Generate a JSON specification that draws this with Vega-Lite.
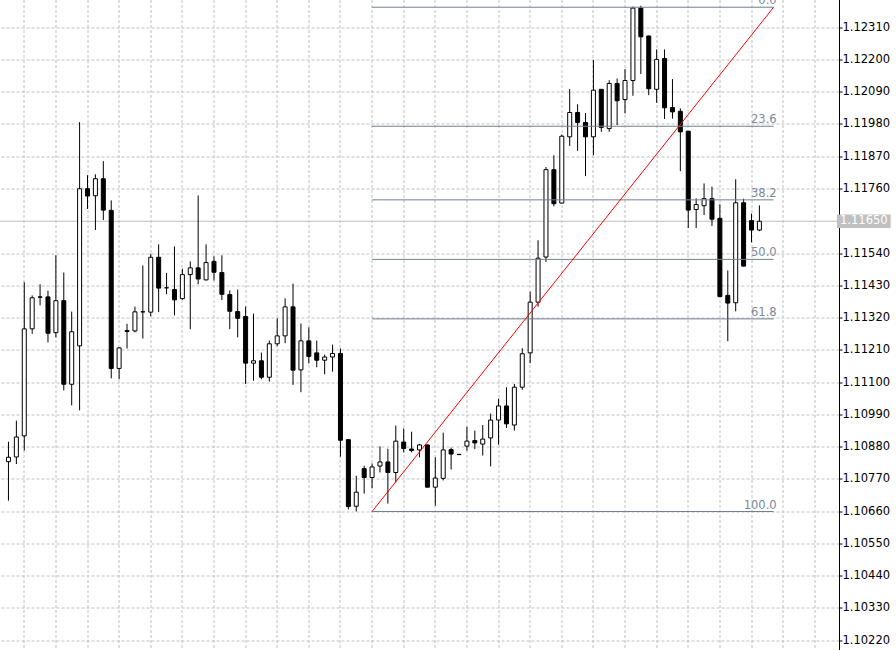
{
  "$schema": "https://vega.github.io/schema/vega-lite/v6.json",
  "width": 839.5,
  "height": 650,
  "autosize": {"type": "none"},
  "padding": {"left": 0, "top": 0, "right": 56.5, "bottom": 0},
  "background": "white",
  "config": {
    "view": {"stroke": null},
    "font": "DejaVu Sans",
    "axis": {"labelOverlap": false, "labelBound": false, "labelFlush": false}
  },
  "datasets": {
    "candles": [
      {"i":0,"o":1.10830,"h":1.10898,"l":1.10697,"c":1.10845},
      {"i":1,"o":1.10846,"h":1.10970,"l":1.10822,"c":1.10914},
      {"i":2,"o":1.10918,"h":1.11442,"l":1.10868,"c":1.11283},
      {"i":3,"o":1.11283,"h":1.11397,"l":1.11266,"c":1.11389},
      {"i":4,"o":1.11392,"h":1.11435,"l":1.11363,"c":1.11391},
      {"i":5,"o":1.11392,"h":1.11413,"l":1.11237,"c":1.11268},
      {"i":6,"o":1.11270,"h":1.11534,"l":1.11254,"c":1.11379},
      {"i":7,"o":1.11379,"h":1.11475,"l":1.11073,"c":1.11094},
      {"i":8,"o":1.11094,"h":1.11342,"l":1.11022,"c":1.11273},
      {"i":9,"o":1.11225,"h":1.11988,"l":1.11005,"c":1.11761},
      {"i":10,"o":1.11761,"h":1.11807,"l":1.11692,"c":1.11736},
      {"i":11,"o":1.11737,"h":1.11810,"l":1.11620,"c":1.11795},
      {"i":12,"o":1.11795,"h":1.11855,"l":1.11654,"c":1.11688},
      {"i":13,"o":1.11687,"h":1.11721,"l":1.11114,"c":1.11148},
      {"i":14,"o":1.11148,"h":1.11220,"l":1.11111,"c":1.11218},
      {"i":15,"o":1.11277,"h":1.11300,"l":1.11216,"c":1.11274},
      {"i":16,"o":1.11276,"h":1.11359,"l":1.11271,"c":1.11341},
      {"i":17,"o":1.11341,"h":1.11499,"l":1.11250,"c":1.11341},
      {"i":18,"o":1.11340,"h":1.11539,"l":1.11326,"c":1.11527},
      {"i":19,"o":1.11527,"h":1.11571,"l":1.11340,"c":1.11422},
      {"i":20,"o":1.11423,"h":1.11474,"l":1.11401,"c":1.11423},
      {"i":21,"o":1.11417,"h":1.11564,"l":1.11329,"c":1.11382},
      {"i":22,"o":1.11386,"h":1.11488,"l":1.11382,"c":1.11468},
      {"i":23,"o":1.11468,"h":1.11513,"l":1.11282,"c":1.11491},
      {"i":24,"o":1.11491,"h":1.11738,"l":1.11435,"c":1.11453},
      {"i":25,"o":1.11450,"h":1.11571,"l":1.11448,"c":1.11509},
      {"i":26,"o":1.11513,"h":1.11530,"l":1.11448,"c":1.11476},
      {"i":27,"o":1.11475,"h":1.11534,"l":1.11381,"c":1.11401},
      {"i":28,"o":1.11400,"h":1.11414,"l":1.11282,"c":1.11343},
      {"i":29,"o":1.11342,"h":1.11417,"l":1.11254,"c":1.11319},
      {"i":30,"o":1.11325,"h":1.11359,"l":1.11095,"c":1.11166},
      {"i":31,"o":1.11166,"h":1.11335,"l":1.11106,"c":1.11174},
      {"i":32,"o":1.11174,"h":1.11202,"l":1.11111,"c":1.11118},
      {"i":33,"o":1.11118,"h":1.11243,"l":1.11103,"c":1.11232},
      {"i":34,"o":1.11232,"h":1.11319,"l":1.11224,"c":1.11259},
      {"i":35,"o":1.11259,"h":1.11387,"l":1.11234,"c":1.11358},
      {"i":36,"o":1.11358,"h":1.11437,"l":1.11092,"c":1.11142},
      {"i":37,"o":1.11143,"h":1.11301,"l":1.11067,"c":1.11242},
      {"i":38,"o":1.11242,"h":1.11288,"l":1.11165,"c":1.11189},
      {"i":39,"o":1.11201,"h":1.11243,"l":1.11152,"c":1.11176},
      {"i":40,"o":1.11176,"h":1.11195,"l":1.11128,"c":1.11187},
      {"i":41,"o":1.11187,"h":1.11229,"l":1.11137,"c":1.11199},
      {"i":42,"o":1.11199,"h":1.11216,"l":1.10847,"c":1.10903},
      {"i":43,"o":1.10905,"h":1.10907,"l":1.10667,"c":1.10677},
      {"i":44,"o":1.10678,"h":1.10782,"l":1.10660,"c":1.10726},
      {"i":45,"o":1.10806,"h":1.10816,"l":1.10721,"c":1.10776},
      {"i":46,"o":1.10776,"h":1.10824,"l":1.10739,"c":1.10812},
      {"i":47,"o":1.10815,"h":1.10882,"l":1.10793,"c":1.10829},
      {"i":48,"o":1.10829,"h":1.10874,"l":1.10687,"c":1.10793},
      {"i":49,"o":1.10793,"h":1.10953,"l":1.10759,"c":1.10900},
      {"i":50,"o":1.10897,"h":1.10943,"l":1.10862,"c":1.10875},
      {"i":51,"o":1.10873,"h":1.10932,"l":1.10862,"c":1.10868},
      {"i":52,"o":1.10870,"h":1.10891,"l":1.10845,"c":1.10887},
      {"i":53,"o":1.10887,"h":1.10888,"l":1.10742,"c":1.10743},
      {"i":54,"o":1.10743,"h":1.10845,"l":1.10680,"c":1.10774},
      {"i":55,"o":1.10773,"h":1.10929,"l":1.10766,"c":1.10870},
      {"i":56,"o":1.10871,"h":1.10878,"l":1.10803,"c":1.10856},
      {"i":57,"o":1.10855,"h":1.10856,"l":1.10853,"c":1.10854},
      {"i":58,"o":1.10883,"h":1.10949,"l":1.10867,"c":1.10900},
      {"i":59,"o":1.10902,"h":1.10936,"l":1.10873,"c":1.10894},
      {"i":60,"o":1.10890,"h":1.10955,"l":1.10851,"c":1.10907},
      {"i":61,"o":1.10911,"h":1.10994,"l":1.10814,"c":1.10972},
      {"i":62,"o":1.10972,"h":1.11045,"l":1.10888,"c":1.11020},
      {"i":63,"o":1.11020,"h":1.11084,"l":1.10945,"c":1.10959},
      {"i":64,"o":1.10955,"h":1.11095,"l":1.10936,"c":1.11084},
      {"i":65,"o":1.11084,"h":1.11217,"l":1.11075,"c":1.11198},
      {"i":66,"o":1.11201,"h":1.11410,"l":1.11166,"c":1.11374},
      {"i":67,"o":1.11374,"h":1.11585,"l":1.11359,"c":1.11524},
      {"i":68,"o":1.11528,"h":1.11835,"l":1.11511,"c":1.11826},
      {"i":69,"o":1.11826,"h":1.11875,"l":1.11701,"c":1.11710},
      {"i":70,"o":1.11712,"h":1.11946,"l":1.11710,"c":1.11940},
      {"i":71,"o":1.11938,"h":1.12101,"l":1.11907,"c":1.12021},
      {"i":72,"o":1.12021,"h":1.12049,"l":1.11890,"c":1.11987},
      {"i":73,"o":1.11987,"h":1.12019,"l":1.11804,"c":1.11938},
      {"i":74,"o":1.11938,"h":1.12200,"l":1.11875,"c":1.12097},
      {"i":75,"o":1.12100,"h":1.12101,"l":1.11955,"c":1.11970},
      {"i":76,"o":1.11966,"h":1.12131,"l":1.11955,"c":1.12120},
      {"i":77,"o":1.12120,"h":1.12137,"l":1.11978,"c":1.12061},
      {"i":78,"o":1.12065,"h":1.12169,"l":1.12018,"c":1.12130},
      {"i":79,"o":1.12130,"h":1.12382,"l":1.12078,"c":1.12377},
      {"i":80,"o":1.12377,"h":1.12385,"l":1.12152,"c":1.12279},
      {"i":81,"o":1.12282,"h":1.12283,"l":1.12080,"c":1.12102},
      {"i":82,"o":1.12100,"h":1.12236,"l":1.12054,"c":1.12202},
      {"i":83,"o":1.12205,"h":1.12236,"l":1.11999,"c":1.12037},
      {"i":84,"o":1.12038,"h":1.12135,"l":1.12000,"c":1.12023},
      {"i":85,"o":1.12025,"h":1.12035,"l":1.11821,"c":1.11955},
      {"i":86,"o":1.11957,"h":1.11958,"l":1.11627,"c":1.11688},
      {"i":87,"o":1.11690,"h":1.11728,"l":1.11627,"c":1.11707},
      {"i":88,"o":1.11703,"h":1.11779,"l":1.11671,"c":1.11727},
      {"i":89,"o":1.11727,"h":1.11768,"l":1.11634,"c":1.11657},
      {"i":90,"o":1.11660,"h":1.11708,"l":1.11391,"c":1.11393},
      {"i":91,"o":1.11397,"h":1.11482,"l":1.11241,"c":1.11371},
      {"i":92,"o":1.11372,"h":1.11793,"l":1.11343,"c":1.11713},
      {"i":93,"o":1.11713,"h":1.11727,"l":1.11496,"c":1.11497},
      {"i":94,"o":1.11652,"h":1.11676,"l":1.11578,"c":1.11620},
      {"i":95,"o":1.11620,"h":1.11704,"l":1.11616,"c":1.11650}
    ],
    "fib": [
      {"label": "0.0", "price": 1.12380, "start": 46, "end": 96.8},
      {"label": "23.6", "price": 1.11974, "start": 46, "end": 96.8},
      {"label": "38.2", "price": 1.11723, "start": 46, "end": 96.8},
      {"label": "50.0", "price": 1.11520, "start": 46, "end": 96.8},
      {"label": "61.8", "price": 1.11317, "start": 46, "end": 96.8},
      {"label": "100.0", "price": 1.10660, "start": 46, "end": 96.8}
    ],
    "trend": [
      {"i0": 46, "p0": 1.10660, "i1": 96.8, "p1": 1.12380}
    ],
    "bid": [
      {"label": "1.11650", "price": 1.11650}
    ]
  },
  "layer": [
    {
      "data": {"name": "bid"},
      "mark": {"type": "rule", "color": "#c0c0c0", "strokeWidth": 1},
      "encoding": {
        "y": {
          "field": "price",
          "type": "quantitative",
          "title": null,
          "scale": {"domain": [1.101876, 1.1240465], "nice": false, "zero": false},
          "axis": {
            "orient": "right",
            "translate": 0,
            "values": [1.1022, 1.1033, 1.1044, 1.1055, 1.1066, 1.1077, 1.1088, 1.1099, 1.111, 1.1121, 1.1132, 1.1143, 1.1154, 1.1176, 1.1187, 1.1198, 1.1209, 1.122, 1.1231],
            "tickCount": 100,
            "format": ".5f",
            "grid": true,
            "gridColor": "#c0c0c0",
            "gridDash": [3, 2],
            "gridWidth": 1,
            "domainColor": "#000000",
            "domainWidth": 1,
            "tickColor": "#000000",
            "tickSize": 3,
            "tickWidth": 1,
            "labelPadding": 0,
            "labelFont": "DejaVu Sans",
            "labelFontSize": 11.5,
            "labelColor": "#000000",
            "labelBound": false,
            "labelOverlap": false,
            "labelFlush": false,
            "title": null
          }
        }
      }
    },
    {
      "data": {"name": "candles"},
      "mark": {"type": "rule", "color": "#000000", "strokeWidth": 1},
      "encoding": {
        "x": {
          "field": "i",
          "type": "quantitative",
          "title": null,
          "scale": {"domain": [-0.4375, 104.5], "nice": false, "zero": false},
          "axis": {
            "orient": "bottom",
            "translate": 0,
            "values": [2, 6, 10, 14, 18, 22, 26, 30, 34, 38, 42, 46, 50, 54, 58, 62, 66, 70, 74, 78, 82, 86, 90, 94, 98, 102],
            "tickCount": 100,
            "grid": true,
            "gridColor": "#c0c0c0",
            "gridDash": [3, 2],
            "gridWidth": 1,
            "labels": false,
            "ticks": false,
            "domain": false,
            "title": null
          }
        },
        "y": {"field": "l", "type": "quantitative", "title": null},
        "y2": {"field": "h"}
      }
    },
    {
      "data": {"name": "candles"},
      "mark": {"type": "bar", "size": 4, "stroke": "#000000", "strokeWidth": 1},
      "encoding": {
        "x": {"field": "i", "type": "quantitative", "title": null},
        "y": {"field": "o", "type": "quantitative", "title": null},
        "y2": {"field": "c"},
        "fill": {
          "condition": {"test": "datum.c > datum.o", "value": "#ffffff"},
          "value": "#000000"
        }
      }
    },
    {
      "data": {"name": "fib"},
      "mark": {"type": "rule", "color": "#708090", "strokeWidth": 1},
      "encoding": {
        "x": {"field": "start", "type": "quantitative", "title": null},
        "x2": {"field": "end"},
        "y": {"field": "price", "type": "quantitative", "title": null}
      }
    },
    {
      "data": {"name": "trend"},
      "mark": {"type": "rule", "color": "#ff0000", "strokeWidth": 1},
      "encoding": {
        "x": {"field": "i0", "type": "quantitative", "title": null},
        "x2": {"field": "i1"},
        "y": {"field": "p0", "type": "quantitative", "title": null},
        "y2": {"field": "p1"}
      }
    },
    {
      "data": {"name": "fib"},
      "mark": {"type": "text", "align": "right", "baseline": "alphabetic", "dx": 3, "dy": -3, "font": "DejaVu Sans", "fontSize": 11.5, "color": "#7a8a9a"},
      "encoding": {
        "x": {"field": "end", "type": "quantitative", "title": null},
        "y": {"field": "price", "type": "quantitative", "title": null},
        "text": {"field": "label"}
      }
    },
    {
      "data": {"name": "bid"},
      "mark": {"type": "rect", "color": "#c0c0c0", "clip": false},
      "encoding": {
        "x": {"datum": 104.8, "type": "quantitative"},
        "x2": {"datum": 111.6},
        "y": {"datum": 1.11673, "type": "quantitative"},
        "y2": {"datum": 1.11627}
      }
    },
    {
      "data": {"name": "bid"},
      "mark": {"type": "text", "align": "left", "baseline": "middle", "font": "DejaVu Sans", "fontSize": 11.5, "color": "#ffffff", "clip": false},
      "encoding": {
        "x": {"datum": 105.2, "type": "quantitative"},
        "y": {"field": "price", "type": "quantitative", "title": null},
        "text": {"field": "label"}
      }
    }
  ]
}
